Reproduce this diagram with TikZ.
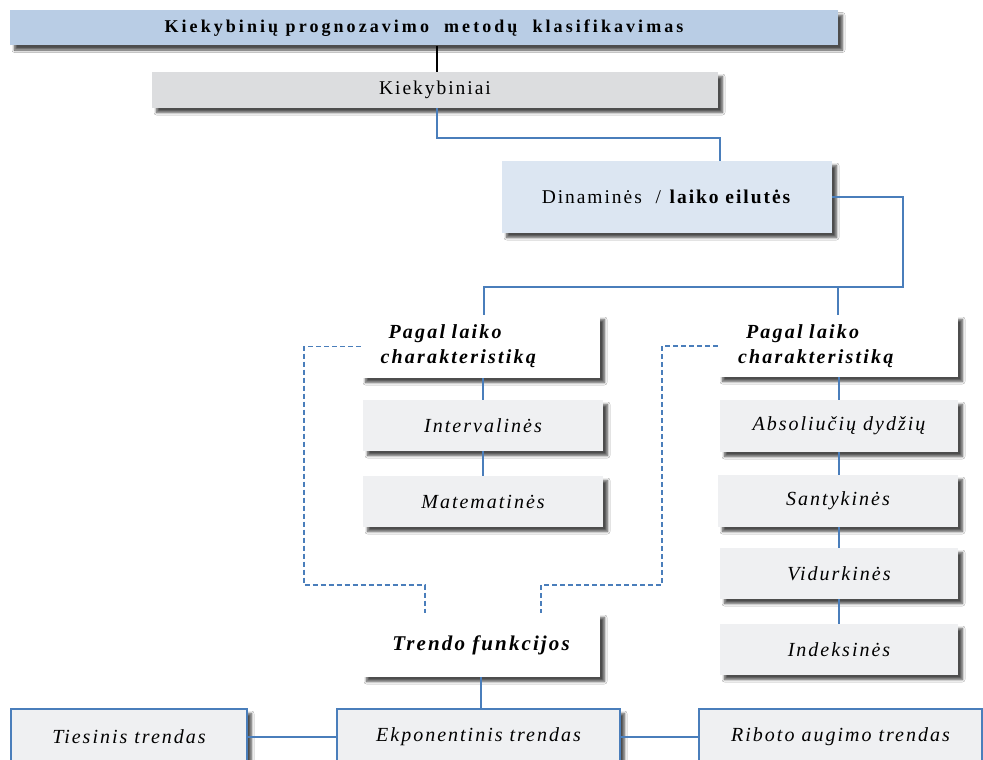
\documentclass[tikz,border=0pt]{standalone}
\usepackage{fontspec}
\setmainfont{Liberation Serif}[LetterSpace=10]
\newfontfamily\titlefont{Liberation Serif}[LetterSpace=17]
\newfontfamily\pagalfont{Liberation Serif}[LetterSpace=11]
\usetikzlibrary{shadows.blur}
\definecolor{titlebg}{HTML}{B9CDE5}
\definecolor{kiekbg}{HTML}{DCDDDF}
\definecolor{dinbg}{HTML}{DCE6F2}
\definecolor{itembg}{HTML}{EFF0F2}
\definecolor{connblue}{HTML}{4A7EBB}
\tikzset{
  x=1pt,y=-1pt,
  box/.style={inner sep=0pt, align=center, blur shadow={shadow xshift=4.5pt, shadow yshift=-4.5pt, shadow opacity=70, shadow blur steps=6, shadow blur radius=2.5pt}},
  whitebox/.style={box, fill=white},
  pagalbox/.style={whitebox, minimum height=63, minimum width=239, text width=200, align=left, font=\pagalfont\fontsize{20}{25}\selectfont\bfseries\itshape},
  itembox/.style={box, fill=itembg, font=\fontsize{20}{22}\selectfont\itshape},
  trendbox/.style={box, fill=itembg, draw=connblue, line width=2.5pt, font=\fontsize{20}{22}\selectfont\itshape},
  conn/.style={draw=connblue, line width=1.5pt},
  dashconn/.style={draw=connblue, line width=1.3pt, dash pattern=on 5pt off 3pt},
}
\begin{document}
\begin{tikzpicture}
\useasboundingbox[fill=white] (0,0) rectangle (983,760);
% nodes
\node[box, fill=titlebg, minimum width=828, minimum height=35, font=\titlefont\fontsize{18}{20}\selectfont\bfseries] (title) at (424,28) {Kiekybinių\ prognozavimo\ \ metodų\ \ klasifikavimas};
\node[box, fill=kiekbg, minimum width=566, minimum height=36, font=\fontsize{19.5}{22}\selectfont] (kiek) at (435,90) {Kiekybiniai};
\node[box, fill=dinbg, minimum width=330, minimum height=72, font=\fontsize{19.5}{22}\selectfont] (dinam) at (667,197) {Dinaminės\ \ / \textbf{laiko eilutės}};
\node[pagalbox] (pagalL) at (480.5,346.5) {\hspace*{8pt}Pagal laiko\\charakteristiką};
\node[pagalbox, minimum width=240, minimum height=62] (pagalR) at (838,346) {\hspace*{8pt}Pagal laiko\\charakteristiką};
\node[itembox, minimum width=240, minimum height=51] (interv) at (483,425.5) {Intervalinės};
\node[itembox, minimum width=240, minimum height=51] (matem) at (483,501.5) {Matematinės};
\node[itembox, minimum width=238, minimum height=52] (absol) at (839,426) {Absoliučių dydžių};
\node[itembox, minimum width=240, minimum height=52] (santyk) at (838,501) {Santykinės};
\node[itembox, minimum width=238, minimum height=51] (vidurk) at (839,573.5) {Vidurkinės};
\node[itembox, minimum width=238, minimum height=51] (indeks) at (839,649.5) {Indeksinės};
\node[whitebox, minimum width=238, minimum height=64, font=\fontsize{21}{24}\selectfont\bfseries\itshape] (trendo) at (481,645) {Trendo funkcijos};
\node[trendbox, minimum width=283, minimum height=56] (ekpon) at (478.5,737) {Ekponentinis trendas};
\node[trendbox, minimum width=236, minimum height=56] (ties) at (129,737) {Tiesinis trendas};
\node[trendbox, minimum width=283, minimum height=56] (ribot) at (840.5,737) {Riboto augimo trendas};
% bend coordinates
\coordinate (b1) at (600,138);
\coordinate (b2) at (903,287);
\coordinate (d1) at (304,585);
\coordinate (d2) at (662,585);
% connectors
\draw[black, line width=2.2pt] ([xshift=2]kiek.north |- title.south) -- ([xshift=2]kiek.north);
\draw[conn] ([xshift=2]kiek.south) |- (b1) -| ([xshift=53]dinam.north);
\draw[conn] (dinam.east) -| (b2) -| ([xshift=3.5]pagalL.north);
\draw[conn] (pagalR.north |- b2) -- (pagalR.north);
\draw[conn] (interv.north |- pagalL.south) -- (interv.north);
\draw[conn] (interv.south) -- (matem.north);
\draw[conn] (absol.north |- pagalR.south) -- (absol.north);
\draw[conn] (absol.south) -- (absol.south |- santyk.north);
\draw[conn] (absol.south |- santyk.south) -- (vidurk.north);
\draw[conn] (vidurk.south) -- (indeks.north);
\draw[dashconn] (pagalL.west) -| (d1) -| ([xshift=-56]trendo.north);
\draw[dashconn] (pagalR.west) -| (d2) -| ([xshift=60]trendo.north);
\draw[conn] (trendo.south) -- (trendo.south |- ekpon.north);
\draw[conn] (ties.east) -- (ekpon.west);
\draw[conn] (ekpon.east) -- (ribot.west);
\end{tikzpicture}
\end{document}
